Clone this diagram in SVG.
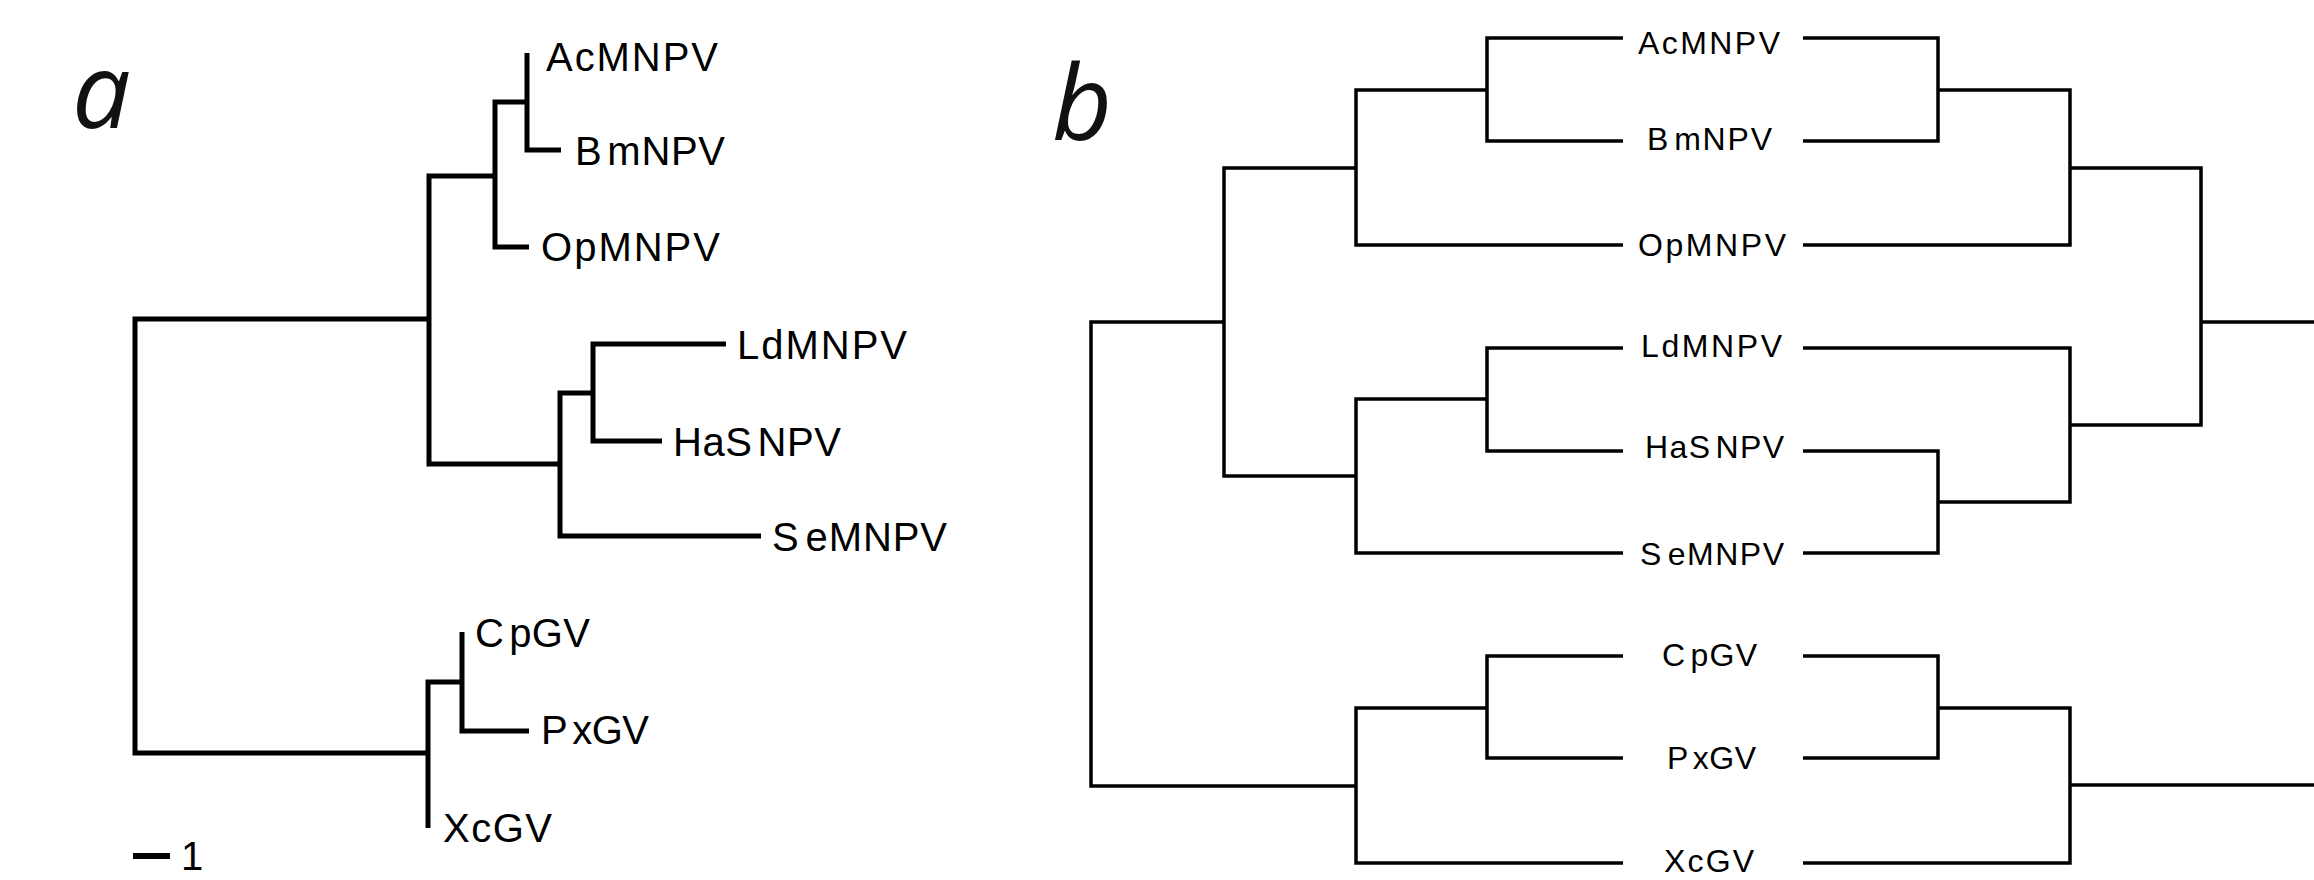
<svg xmlns="http://www.w3.org/2000/svg" width="2314" height="880" viewBox="0 0 2314 880">
  <style>
    .bg { fill: #ffffff; }
    .br-a { fill: none; stroke: #000; stroke-width: 5; stroke-linejoin: miter; stroke-linecap: butt; }
    .br-b { fill: none; stroke: #000; stroke-width: 3.5; stroke-linejoin: miter; stroke-linecap: butt; }
    .lab-a { font-family: "Liberation Sans", Arial, sans-serif; font-size: 40px; fill: #000; }
    .lab-b { font-family: "Liberation Sans", Arial, sans-serif; font-size: 32px; fill: #000; }
    .panel { font-family: "Open Sans", "Liberation Sans", sans-serif; font-style: italic; font-size: 104px; fill: #111; }
  </style>
  <rect class="bg" x="0" y="0" width="2314" height="880"/>

  <!-- Panel a: phylogram -->
  <g id="panel-a">
    <text id="label-a" class="panel" x="72" y="128">a</text>

    <g id="a-connectors">
      <path class="br-a" d="M429 319 H135 V753 H428"/>
      <path class="br-a" d="M495 176 H429 V464 H560"/>
      <path class="br-a" d="M527 102 H495 V247 H529"/>
      <path class="br-a" d="M527 53 V150 H561"/>
      <path class="br-a" d="M593 393 H560 V536 H761"/>
      <path class="br-a" d="M726 344 H593 V441 H662"/>
      <path class="br-a" d="M462 682 H428 V828"/>
      <path class="br-a" d="M462 632 V731 H529"/>
    </g>

    <g id="a-AcMNPV"><text class="lab-a" x="546" y="71" textLength="172" lengthAdjust="spacing">AcMNPV</text></g>
    <g id="a-BmNPV"><text class="lab-a" x="575" y="165" textLength="150" lengthAdjust="spacing">B<tspan dx="5">mNPV</tspan></text></g>
    <g id="a-OpMNPV"><text class="lab-a" x="541" y="261" textLength="179" lengthAdjust="spacing">OpMNPV</text></g>
    <g id="a-LdMNPV"><text class="lab-a" x="737" y="359" textLength="170" lengthAdjust="spacing">LdMNPV</text></g>
    <g id="a-HaSNPV"><text class="lab-a" x="673" y="456" textLength="168" lengthAdjust="spacing">HaS<tspan dx="5">NPV</tspan></text></g>
    <g id="a-SeMNPV"><text class="lab-a" x="772" y="551" textLength="175" lengthAdjust="spacing">S<tspan dx="6">eMNPV</tspan></text></g>
    <g id="a-CpGV"><text class="lab-a" x="475" y="647" textLength="115" lengthAdjust="spacing">C<tspan dx="5">pGV</tspan></text></g>
    <g id="a-PxGV"><text class="lab-a" x="541" y="744" textLength="108" lengthAdjust="spacing">P<tspan dx="5">xGV</tspan></text></g>
    <g id="a-XcGV"><text class="lab-a" x="443" y="842" textLength="109" lengthAdjust="spacing">XcGV</text></g>

    <g id="a-scale">
      <path fill="none" stroke="#000" stroke-width="6" d="M133 856 H170"/>
      <text class="lab-a" x="181" y="870">1</text>
    </g>
  </g>

  <!-- Panel b: mirrored cladograms -->
  <g id="panel-b">
    <text id="label-b" class="panel" x="1052" y="140">b</text>

    <g id="b-connectors">
      <!-- left tree -->
      <path class="br-b" d="M1224 322 H1091 V786 H1356"/>
      <path class="br-b" d="M1356 168 H1224 V476 H1356"/>
      <path class="br-b" d="M1487 90 H1356 V245 H1623"/>
      <path class="br-b" d="M1623 38 H1487 V141 H1623"/>
      <path class="br-b" d="M1487 399 H1356 V553 H1623"/>
      <path class="br-b" d="M1623 348 H1487 V451 H1623"/>
      <path class="br-b" d="M1487 708 H1356 V863 H1623"/>
      <path class="br-b" d="M1623 656 H1487 V758 H1623"/>
      <!-- right tree -->
      <path class="br-b" d="M1803 38 H1938 V141 H1803"/>
      <path class="br-b" d="M1938 90 H2070 V245 H1803"/>
      <path class="br-b" d="M1803 451 H1938 V553 H1803"/>
      <path class="br-b" d="M1803 348 H2070 V502 H1938"/>
      <path class="br-b" d="M2070 168 H2201 V425 H2070"/>
      <path class="br-b" d="M2201 322 H2314"/>
      <path class="br-b" d="M1803 656 H1938 V758 H1803"/>
      <path class="br-b" d="M1938 708 H2070 V863 H1803"/>
      <path class="br-b" d="M2070 785 H2314"/>
    </g>

    <g id="b-AcMNPV"><text class="lab-b" x="1638" y="54" textLength="142" lengthAdjust="spacing">AcMNPV</text></g>
    <g id="b-BmNPV"><text class="lab-b" x="1647" y="150" textLength="125" lengthAdjust="spacing">B<tspan dx="4">mNPV</tspan></text></g>
    <g id="b-OpMNPV"><text class="lab-b" x="1638" y="256" textLength="148" lengthAdjust="spacing">OpMNPV</text></g>
    <g id="b-LdMNPV"><text class="lab-b" x="1641" y="357" textLength="141" lengthAdjust="spacing">LdMNPV</text></g>
    <g id="b-HaSNPV"><text class="lab-b" x="1645" y="458" textLength="139" lengthAdjust="spacing">HaS<tspan dx="4">NPV</tspan></text></g>
    <g id="b-SeMNPV"><text class="lab-b" x="1640" y="565" textLength="144" lengthAdjust="spacing">S<tspan dx="5">eMNPV</tspan></text></g>
    <g id="b-CpGV"><text class="lab-b" x="1662" y="666" textLength="95" lengthAdjust="spacing">C<tspan dx="4">pGV</tspan></text></g>
    <g id="b-PxGV"><text class="lab-b" x="1667" y="769" textLength="89" lengthAdjust="spacing">P<tspan dx="4">xGV</tspan></text></g>
    <g id="b-XcGV"><text class="lab-b" x="1664" y="872" textLength="90" lengthAdjust="spacing">XcGV</text></g>
  </g>
</svg>
